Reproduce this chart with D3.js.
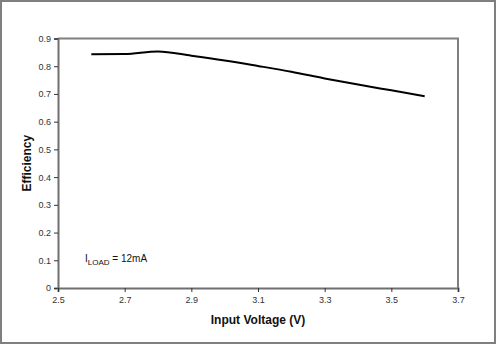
<!DOCTYPE html>
<html>
<head>
<meta charset="utf-8">
<script src="https://cdn.jsdelivr.net/npm/d3@7"></script>
<style>
  html, body { margin: 0; padding: 0; background: #fff; }
  svg { display: block; font-family: "Liberation Sans", Arial, sans-serif; }
</style>
</head>
<body>
<svg id="chart" width="497" height="345"></svg>
<script>
// Efficiency vs. input voltage at 12 mA load
const inputVoltage = [2.6, 2.7, 2.8, 2.9, 3.0, 3.1, 3.2, 3.3, 3.4, 3.5, 3.6];
const efficiency   = [0.843, 0.844, 0.853, 0.838, 0.821, 0.801, 0.780, 0.756, 0.734, 0.713, 0.692];
const xTicks = [2.5, 2.7, 2.9, 3.1, 3.3, 3.5, 3.7];
const yTicks = [0, 0.1, 0.2, 0.3, 0.4, 0.5, 0.6, 0.7, 0.8, 0.9];

const svg = d3.select("#chart");
const W = 497, H = 345;
const plot = { left: 58, right: 458, top: 38.5, bottom: 288 };

// outer frame
svg.append("rect")
  .attr("x", 1).attr("y", 1).attr("width", W - 3).attr("height", H - 3)
  .attr("fill", "#fff").attr("stroke", "#7f7f7f").attr("stroke-width", 2);

const x = d3.scaleLinear().domain([2.5, 3.7]).range([plot.left, plot.right]);
const y = d3.scaleLinear().domain([0, 0.9]).range([plot.bottom, plot.top]);

// plot box (top and right edges)
svg.append("path")
  .attr("d", `M${plot.left},${plot.top}H${plot.right}V${plot.bottom}`)
  .attr("fill", "none").attr("stroke", "#7f7f7f").attr("stroke-width", 2);

// y axis
const yAxis = svg.append("g")
  .attr("transform", `translate(${plot.left},0)`)
  .call(d3.axisLeft(y).tickValues(yTicks).tickSize(4).tickPadding(3)
    .tickFormat(d => d === 0 ? "0" : d3.format(".1f")(d)));
yAxis.select(".domain").attr("stroke", "#6f6f6f").attr("stroke-width", 2);
yAxis.selectAll(".tick line").attr("stroke", "#333").attr("stroke-width", 1);
yAxis.selectAll(".tick text").attr("font-size", 9).attr("fill", "#333")
  .attr("font-family", "Liberation Sans, Arial, sans-serif");

// x axis
const xAxis = svg.append("g")
  .attr("transform", `translate(0,${plot.bottom})`)
  .call(d3.axisBottom(x).tickValues(xTicks).tickSize(4).tickPadding(5)
    .tickFormat(d3.format(".1f")));
xAxis.select(".domain").attr("stroke", "#6f6f6f").attr("stroke-width", 2);
xAxis.selectAll(".tick line").attr("stroke", "#333").attr("stroke-width", 1);
xAxis.selectAll(".tick text").attr("font-size", 9).attr("fill", "#333")
  .attr("font-family", "Liberation Sans, Arial, sans-serif");

// axis titles
svg.append("text")
  .attr("x", (plot.left + plot.right) / 2).attr("y", 324)
  .attr("text-anchor", "middle")
  .attr("font-size", 12).attr("font-weight", "bold").attr("fill", "#111")
  .text("Input Voltage (V)");

svg.append("text")
  .attr("transform", `translate(31,${(plot.top + plot.bottom) / 2}) rotate(-90)`)
  .attr("text-anchor", "middle")
  .attr("font-size", 12).attr("font-weight", "bold").attr("fill", "#111")
  .text("Efficiency");

// efficiency curve
const line = d3.line()
  .x((d, i) => x(inputVoltage[i]))
  .y(d => y(d))
  .curve(d3.curveMonotoneX);
svg.append("path")
  .datum(efficiency)
  .attr("d", line)
  .attr("fill", "none").attr("stroke", "#000").attr("stroke-width", 2);

// load annotation
const note = svg.append("text")
  .attr("x", 85).attr("y", 262)
  .attr("font-size", 10).attr("fill", "#111");
note.append("tspan").text("I");
note.append("tspan").attr("font-size", 8).attr("dy", 3).text("LOAD");
note.append("tspan").attr("dy", -3).text(" = 12mA");
</script>
</body>
</html>
